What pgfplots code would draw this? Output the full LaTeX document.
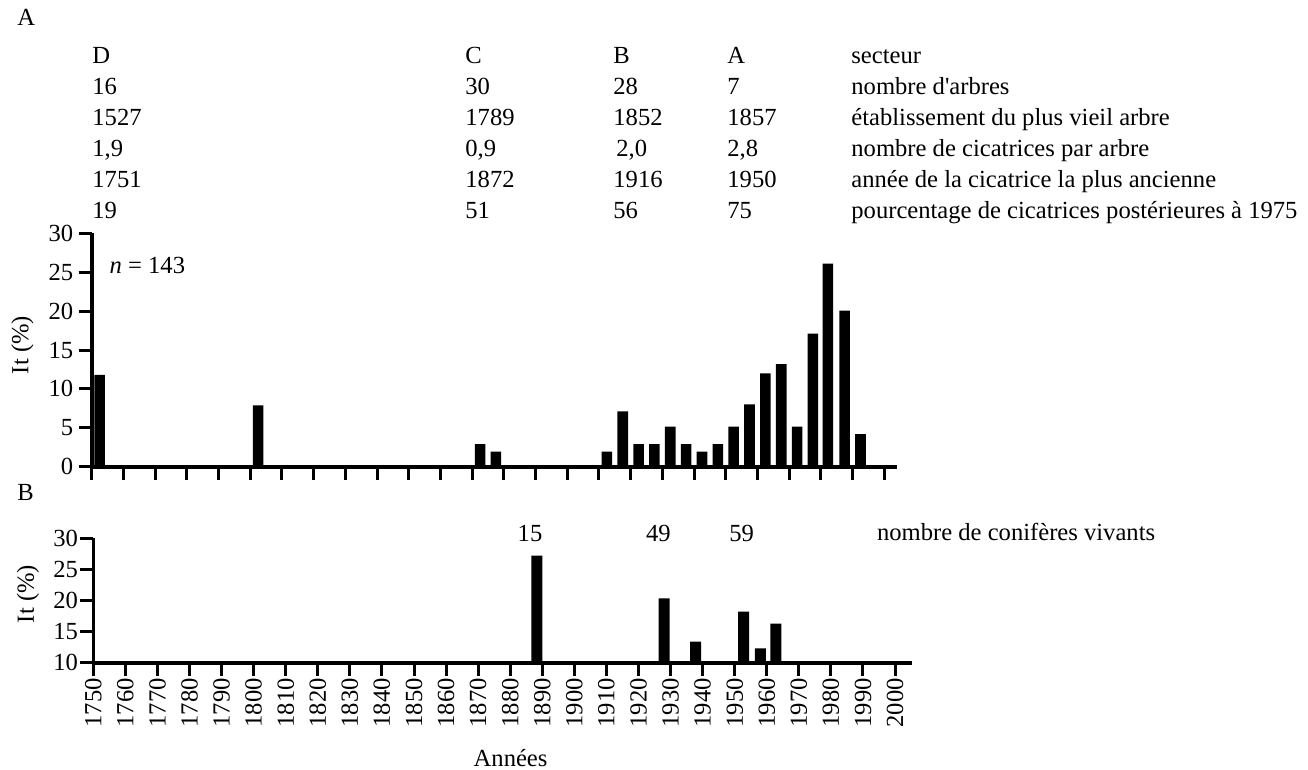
\documentclass[border=0pt]{standalone}
\usepackage{fontspec}
\setmainfont{Liberation Serif}
\usepackage{pgfplots}
\pgfplotsset{compat=1.18}
\newcommand{\ff}{\fontsize{12.3bp}{14.5bp}\selectfont}
\begin{document}
\ff
\begin{tikzpicture}[font=\ff]
\begin{scope}[x=0.5bp,y=-0.5bp]
\path[use as bounding box] (0,0) rectangle (1308,769);
% Panel labels
\node[anchor=base west,inner sep=0] at (17,25) {A};
\node[anchor=base west,inner sep=0] at (17,500) {B};
% Table
\foreach \t/\y in {D/63.5,16/94.5,1527/125.5,{1,9}/156.3,1751/187,19/218}
  \node[anchor=base west,inner sep=0] at (92,\y) {\t};
\foreach \t/\y in {C/63.5,30/94.5,1789/125.5,{0,9}/156.3,1872/187,51/218}
  \node[anchor=base west,inner sep=0] at (465,\y) {\t};
\foreach \t/\y in {B/63.5,28/94.5,1852/125.5,1916/187,56/218}
  \node[anchor=base west,inner sep=0] at (613,\y) {\t};
\node[anchor=base west,inner sep=0] at (616,156.3) {2,0};
\foreach \t/\y in {A/63.5,7/94.5,1857/125.5,{2,8}/156.3,1950/187,75/218}
  \node[anchor=base west,inner sep=0] at (727,\y) {\t};
\node[anchor=base west,inner sep=0] at (851,63.5) {secteur};
\node[anchor=base west,inner sep=0] at (851,94.5) {nombre d\textquotesingle arbres};
\node[anchor=base west,inner sep=0] at (851,125.5) {établissement du plus vieil arbre};
\node[anchor=base west,inner sep=0] at (851,156.3) {nombre de cicatrices par arbre};
\node[anchor=base west,inner sep=0] at (851,187) {année de la cicatrice la plus ancienne};
\node[anchor=base west,inner sep=0] at (851,218) {pourcentage de cicatrices postérieures à 1975};
\node[rotate=90] at (22.5,345) {It (\%)};
\node[anchor=base west,inner sep=0] at (109.3,273.3) {\textit{n} = 143};
\node[rotate=90] at (28,594) {It (\%)};
\node[anchor=base,inner sep=0] at (530,541.7) {15};
\node[anchor=base,inner sep=0] at (658.3,541.7) {49};
\node[anchor=base,inner sep=0] at (741.7,541.7) {59};
\node[anchor=base west,inner sep=0] at (876.7,540.5) {nombre de conifères vivants};
\node[anchor=base west,inner sep=0] at (473.3,766) {Années};
\end{scope}
% Panel A
\begin{axis}[
  at={(45.85bp,-233.35bp)}, anchor=south west,
  scale only axis, width=402.6bp, height=116.7bp,
  xmin=1750, xmax=2004, ymin=0, ymax=30,
  axis lines=left, axis line style={-,line width=1.8bp},
  tick align=outside, major tick length=6.5bp,
  tick style={line width=1.5bp,black},
  xtick={1750,1760,...,2000}, xticklabels={},
  ytick={0,5,...,30},
  /pgf/number format/assume math mode=true,
  /pgf/number format/1000 sep={},
  tick label style={font=\ff},
  yticklabel style={inner sep=2.5bp},
]
\addplot[ybar, bar width=5.3bp, fill=black, draw=none] coordinates {
(1752.5,11.8) (1802.5,7.9) (1872.5,2.9) (1877.5,1.95)
(1912.5,1.95) (1917.5,7.1) (1922.5,2.9) (1927.5,2.9) (1932.5,5.15)
(1937.5,2.9) (1942.5,1.95) (1947.5,2.9) (1952.5,5.15) (1957.5,8.0)
(1962.5,12.0) (1967.5,13.2) (1972.5,5.15) (1977.5,17.1) (1982.2,26.1)
(1987.5,20.05) (1992.5,4.2)};
\end{axis}
% Panel B
\begin{axis}[
  at={(46.65bp,-331.35bp)}, anchor=south west,
  scale only axis, width=409.2bp, height=62.2bp,
  xmin=1750, xmax=2005.2, ymin=10, ymax=30,
  axis lines=left, axis line style={-,line width=1.8bp},
  tick align=outside, major tick length=6.5bp,
  tick style={line width=1.5bp,black},
  xtick={1750,1760,...,2000},
  ytick={10,15,...,30},
  /pgf/number format/assume math mode=true,
  /pgf/number format/1000 sep={},
  tick label style={font=\ff},
  xticklabel style={rotate=90,anchor=east,inner sep=1bp},
  yticklabel style={inner sep=1bp},
]
\addplot[ybar, bar width=5.5bp, fill=black, draw=none] coordinates {
(1888.3,27.2) (1928,20.35) (1937.8,13.4) (1952.8,18.2) (1958,12.3) (1962.8,16.3)};
\end{axis}
\end{tikzpicture}
\end{document}
